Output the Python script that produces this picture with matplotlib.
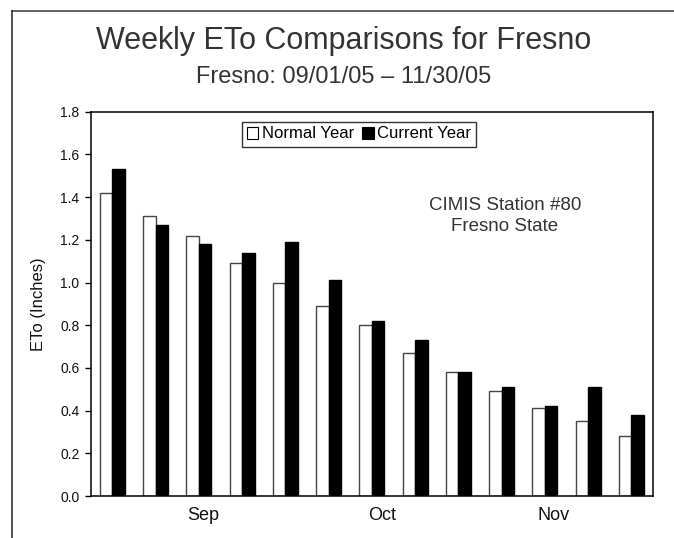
import matplotlib
matplotlib.use("Agg")
import matplotlib.pyplot as plt
from matplotlib.patches import Patch
from matplotlib.lines import Line2D
import numpy as np

plt.rcParams['font.family'] = ['Liberation Sans', 'DejaVu Sans']

weeks = np.arange(13)
normal_year = [1.42, 1.31, 1.22, 1.09, 1.00, 0.89, 0.80, 0.67, 0.58, 0.49, 0.41, 0.35, 0.28]
current_year = [1.53, 1.27, 1.18, 1.14, 1.19, 1.01, 0.82, 0.73, 0.58, 0.51, 0.42, 0.51, 0.38]
month_labels = ["Sep", "Oct", "Nov"]
month_pos = [2.1, 6.24, 10.19]
yticks = [0.0, 0.2, 0.4, 0.6, 0.8, 1.0, 1.2, 1.4, 1.6, 1.8]

W, H = 674, 538
fig = plt.figure(figsize=(W / 100, H / 100), dpi=100)
ax = fig.add_axes([90.7 / W, 1 - 496 / H, (653 - 90.7) / W, (496 - 111.7) / H])

bw = 0.29
ax.bar(weeks - bw / 2, normal_year, width=bw, color='white', edgecolor='#444444', linewidth=1.0, zorder=2)
ax.bar(weeks + bw / 2, current_year, width=bw, color='black', edgecolor='black', linewidth=1.0, zorder=2)

ax.set_xlim(-0.5, 12.5)
ax.set_ylim(0, 1.8)
ax.set_yticks(yticks)
ax.set_yticklabels([f"{v:.1f}" for v in yticks], fontsize=10, color='#111111')
ax.set_xticks(month_pos)
ax.set_xticklabels(month_labels, fontsize=13, color='#111111')
ax.tick_params(axis='x', length=0, pad=8)
ax.tick_params(axis='y', direction='out', length=4, width=1, pad=4)
for s in ax.spines.values():
    s.set_linewidth(1.1)
    s.set_color('black')
ax.set_ylabel("ETo (Inches)", fontsize=12, color='#111111', labelpad=10)

# Titles
fig.text(344 / W, 1 - 49.3 / H, "Weekly ETo Comparisons for Fresno", ha='center', va='baseline',
         fontsize=22, color='#333333')
fig.text(344 / W, 1 - 83.3 / H, "Fresno: 09/01/05 \u2013 11/30/05", ha='center', va='baseline',
         fontsize=17, color='#333333')

# Station annotation
fig.text(504.7 / W, 1 - 210 / H, "CIMIS Station #80", ha='center', va='baseline', fontsize=13.5, color='#333333')
fig.text(504.7 / W, 1 - 230.7 / H, "Fresno State", ha='center', va='baseline', fontsize=13.5, color='#333333')

# Legend
handles = [Patch(facecolor='white', edgecolor='black', linewidth=0.8, label='Normal Year'),
           Patch(facecolor='black', edgecolor='black', linewidth=0.8, label='Current Year')]
leg = fig.legend(handles=handles, loc='center', bbox_to_anchor=(359 / W, 1 - 134 / H), ncol=2,
                 fontsize=12, frameon=True, fancybox=False, handlelength=0.7, handleheight=0.7,
                 handletextpad=0.2, columnspacing=0.5, borderpad=0.3, borderaxespad=0)
leg.get_frame().set_edgecolor('black')
leg.get_frame().set_linewidth(1.0)

# Outer frame lines (top and left)
fig.add_artist(Line2D([12 / W, 1], [1 - 11 / H, 1 - 11 / H], transform=fig.transFigure, color='#555555', lw=1.3))
fig.add_artist(Line2D([12 / W, 12 / W], [0, 1 - 11 / H], transform=fig.transFigure, color='#333333', lw=1.2))

fig.savefig("out.png", dpi=100)
